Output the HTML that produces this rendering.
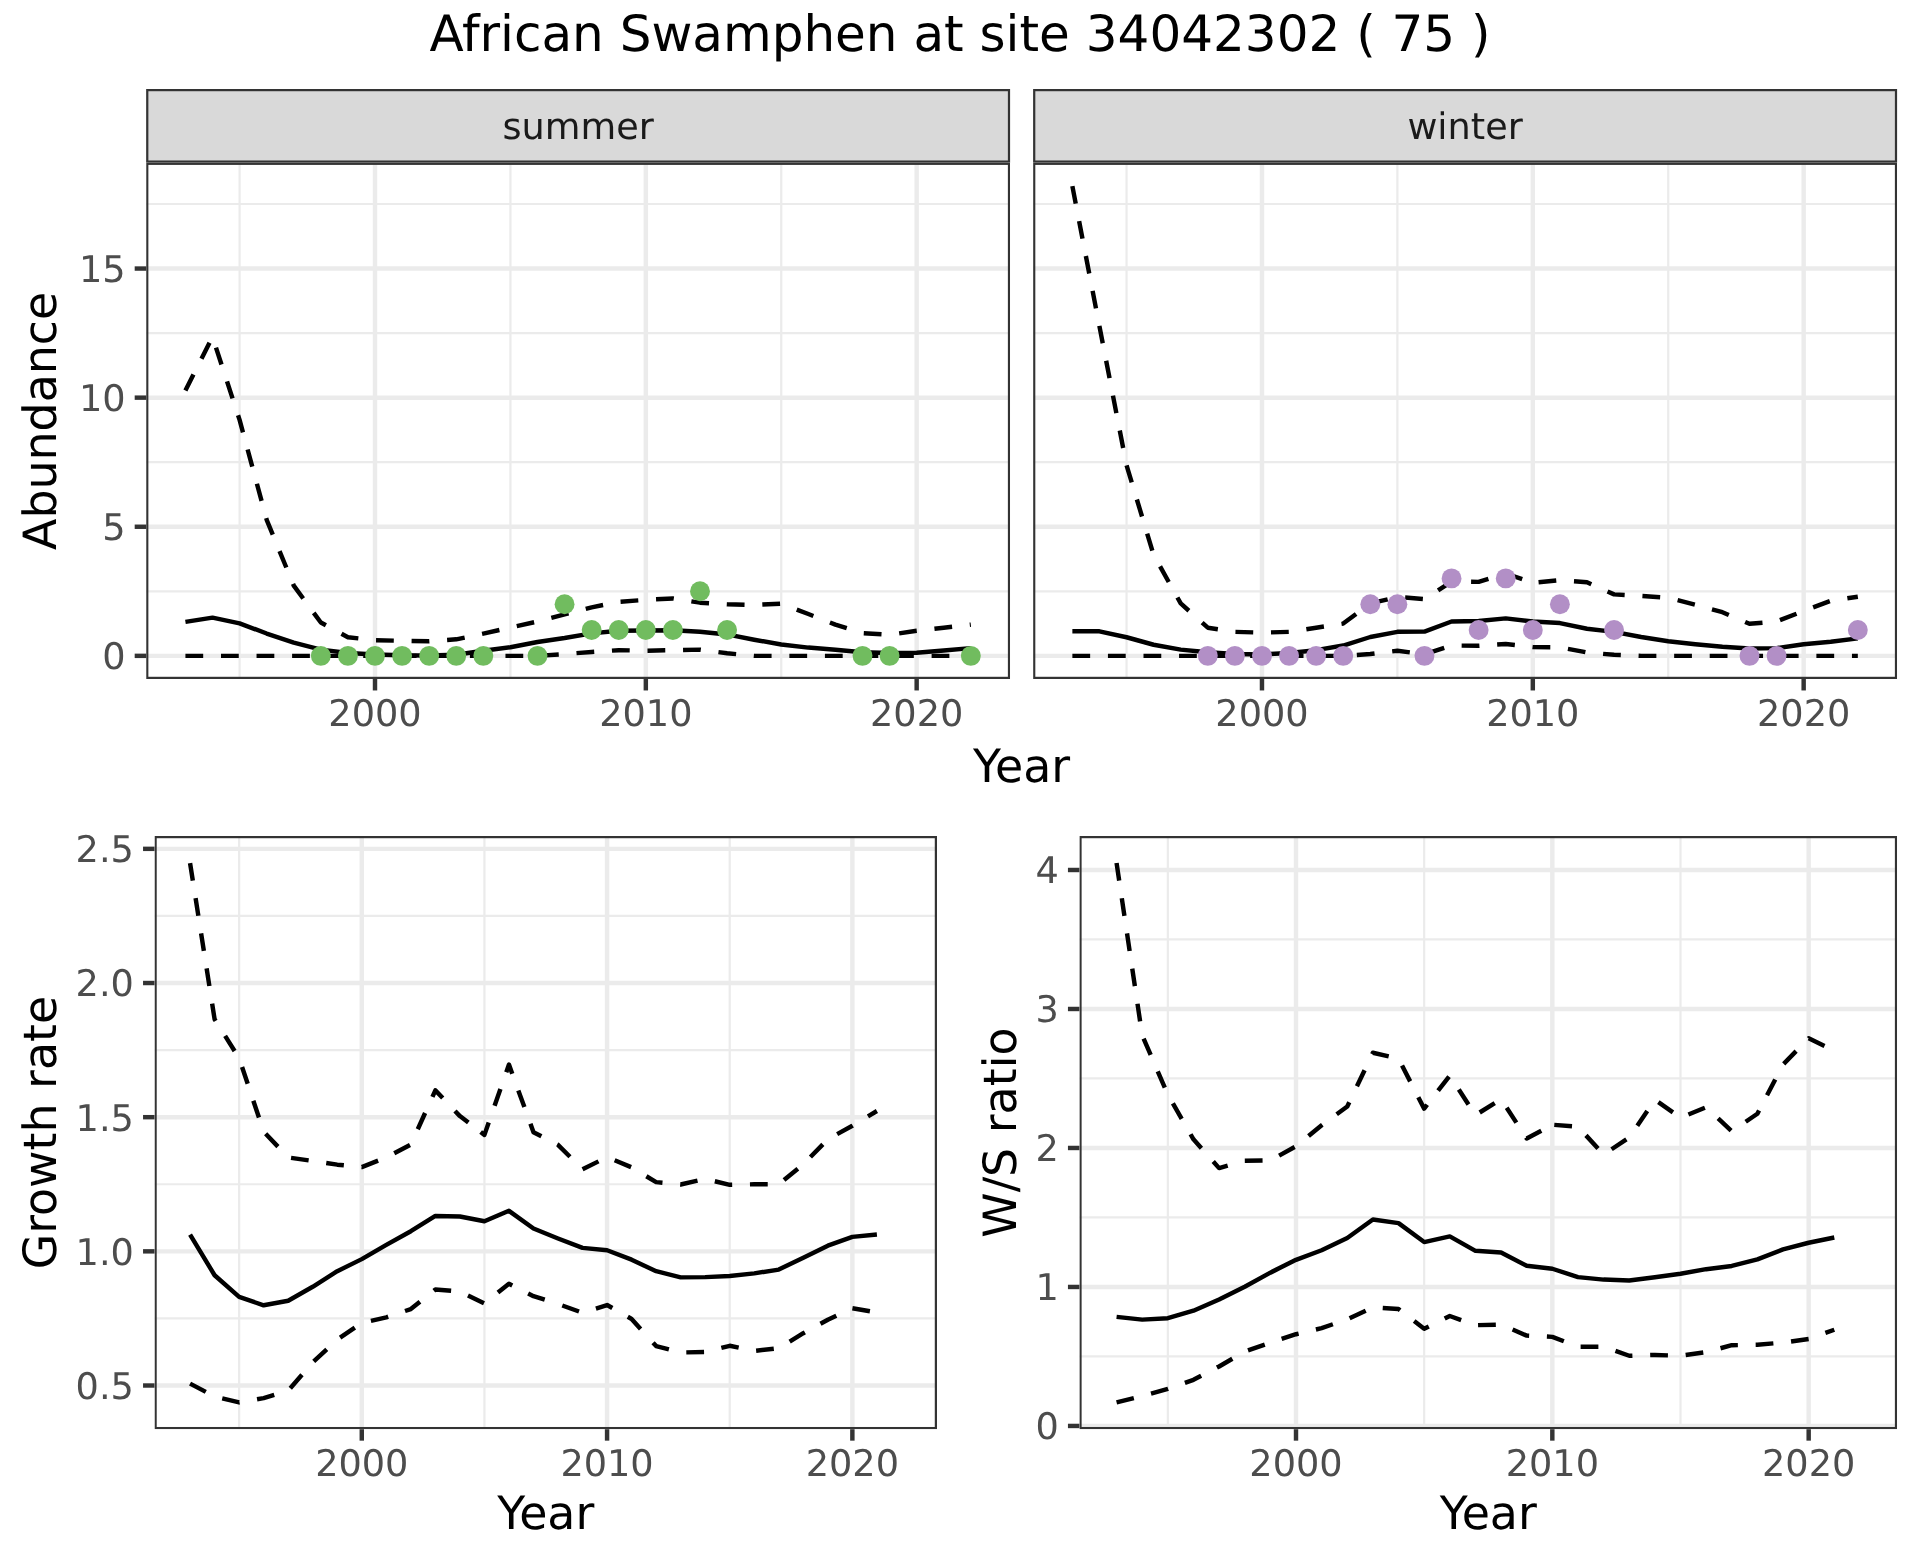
<!DOCTYPE html><html><head><meta charset="utf-8"><title>African Swamphen at site 34042302</title><style>html,body{margin:0;padding:0;background:#fff;width:1920px;height:1560px;overflow:hidden}svg{display:block;will-change:transform} text{font-family:'DejaVu Sans','Liberation Sans',sans-serif;text-rendering:geometricPrecision}</style></head><body>
<svg width="1920" height="1560" viewBox="0 0 1920 1560">
<rect width="1920" height="1560" fill="#FFFFFF"/>
<text x="429.5" y="51" font-size="50" fill="#000000">African Swamphen at site 34042302 ( 75 )</text>
<clipPath id="c1"><rect x="146.15" y="162.7" width="863.95" height="516.3"/></clipPath>
<g clip-path="url(#c1)">
<rect x="146.15" y="162.7" width="863.95" height="516.3" fill="#FFFFFF"/>
<g stroke="#EBEBEB" fill="none"><line x1="239.59" y1="162.7" x2="239.59" y2="679" stroke-width="2.22"/><line x1="510.42" y1="162.7" x2="510.42" y2="679" stroke-width="2.22"/><line x1="781.25" y1="162.7" x2="781.25" y2="679" stroke-width="2.22"/><line x1="146.15" y1="591.3" x2="1010.1" y2="591.3" stroke-width="2.22"/><line x1="146.15" y1="462.2" x2="1010.1" y2="462.2" stroke-width="2.22"/><line x1="146.15" y1="333.1" x2="1010.1" y2="333.1" stroke-width="2.22"/><line x1="146.15" y1="204" x2="1010.1" y2="204" stroke-width="2.22"/><line x1="375" y1="162.7" x2="375" y2="679" stroke-width="4.45"/><line x1="645.83" y1="162.7" x2="645.83" y2="679" stroke-width="4.45"/><line x1="916.66" y1="162.7" x2="916.66" y2="679" stroke-width="4.45"/><line x1="146.15" y1="655.85" x2="1010.1" y2="655.85" stroke-width="4.45"/><line x1="146.15" y1="526.75" x2="1010.1" y2="526.75" stroke-width="4.45"/><line x1="146.15" y1="397.65" x2="1010.1" y2="397.65" stroke-width="4.45"/><line x1="146.15" y1="268.55" x2="1010.1" y2="268.55" stroke-width="4.45"/></g>
<g fill="none" stroke="#000000" stroke-width="4.445" stroke-linejoin="round" stroke-linecap="butt">
<polyline points="185.42,621.87 212.5,617.64 239.59,623.32 266.67,633.52 293.75,642.68 320.84,649.65 347.92,653.01 375,654.56 402.09,655.33 429.17,655.46 456.25,654.82 483.33,650.69 510.42,647.2 537.5,642.04 564.58,638.03 591.67,633.39 618.75,630.8 645.83,630.55 672.92,630.29 700,631.71 727.08,634.42 754.16,639.71 781.25,644.49 808.33,647.59 835.41,649.81 862.5,652.24 889.58,653.01 916.66,652.75 943.75,650.43 970.83,648.1"/>
<polyline points="185.42,655.85 212.5,655.85 239.59,655.85 266.67,655.85 293.75,655.85 320.84,655.85 347.92,655.85 375,655.85 402.09,655.85 429.17,655.85 456.25,655.85 483.33,655.85 510.42,655.85 537.5,655.85 564.58,654.04 591.67,651.98 618.75,650.17 645.83,650.69 672.92,650.17 700,649.65 727.08,653.27 754.16,655.85 781.25,655.85 808.33,655.85 835.41,655.85 862.5,655.85 889.58,655.85 916.66,655.85 943.75,655.85 970.83,655.85" stroke-dasharray="17.78 17.78"/>
<polyline points="185.42,390.42 212.5,336.97 239.59,419.86 266.67,519.78 293.75,585.62 320.84,622.54 347.92,637.26 375,640.2 402.09,640.8 429.17,641.26 456.25,639.33 483.33,633.64 510.42,627.45 537.5,621.51 564.58,614.28 591.67,607.31 618.75,601.89 645.83,599.82 672.92,598.53 700,602.66 727.08,604.21 754.16,604.98 781.25,603.69 808.33,614.02 835.41,624.61 862.5,633.13 889.58,634.81 916.66,630.8 943.75,627.71 970.83,624.61" stroke-dasharray="17.78 17.78"/>
</g>
<g fill="#71BC5F">
<circle cx="320.84" cy="655.85" r="9.95"/>
<circle cx="347.92" cy="655.85" r="9.95"/>
<circle cx="375" cy="655.85" r="9.95"/>
<circle cx="402.09" cy="655.85" r="9.95"/>
<circle cx="429.17" cy="655.85" r="9.95"/>
<circle cx="456.25" cy="655.85" r="9.95"/>
<circle cx="483.33" cy="655.85" r="9.95"/>
<circle cx="537.5" cy="655.85" r="9.95"/>
<circle cx="564.58" cy="604.21" r="9.95"/>
<circle cx="591.67" cy="630.03" r="9.95"/>
<circle cx="618.75" cy="630.03" r="9.95"/>
<circle cx="645.83" cy="630.03" r="9.95"/>
<circle cx="672.92" cy="630.03" r="9.95"/>
<circle cx="700" cy="591.3" r="9.95"/>
<circle cx="727.08" cy="630.03" r="9.95"/>
<circle cx="862.5" cy="655.85" r="9.95"/>
<circle cx="889.58" cy="655.85" r="9.95"/>
<circle cx="970.83" cy="655.85" r="9.95"/>
</g>
<rect x="147.26" y="163.81" width="861.73" height="514.08" fill="none" stroke="#333333" stroke-width="2.22"/>
</g>
<clipPath id="c2"><rect x="1033.1" y="162.7" width="864" height="516.3"/></clipPath>
<g clip-path="url(#c2)">
<rect x="1033.1" y="162.7" width="864" height="516.3" fill="#FFFFFF"/>
<g stroke="#EBEBEB" fill="none"><line x1="1126.54" y1="162.7" x2="1126.54" y2="679" stroke-width="2.22"/><line x1="1397.39" y1="162.7" x2="1397.39" y2="679" stroke-width="2.22"/><line x1="1668.23" y1="162.7" x2="1668.23" y2="679" stroke-width="2.22"/><line x1="1033.1" y1="591.3" x2="1897.1" y2="591.3" stroke-width="2.22"/><line x1="1033.1" y1="462.2" x2="1897.1" y2="462.2" stroke-width="2.22"/><line x1="1033.1" y1="333.1" x2="1897.1" y2="333.1" stroke-width="2.22"/><line x1="1033.1" y1="204" x2="1897.1" y2="204" stroke-width="2.22"/><line x1="1261.97" y1="162.7" x2="1261.97" y2="679" stroke-width="4.45"/><line x1="1532.81" y1="162.7" x2="1532.81" y2="679" stroke-width="4.45"/><line x1="1803.66" y1="162.7" x2="1803.66" y2="679" stroke-width="4.45"/><line x1="1033.1" y1="655.85" x2="1897.1" y2="655.85" stroke-width="4.45"/><line x1="1033.1" y1="526.75" x2="1897.1" y2="526.75" stroke-width="4.45"/><line x1="1033.1" y1="397.65" x2="1897.1" y2="397.65" stroke-width="4.45"/><line x1="1033.1" y1="268.55" x2="1897.1" y2="268.55" stroke-width="4.45"/></g>
<g fill="none" stroke="#000000" stroke-width="4.445" stroke-linejoin="round" stroke-linecap="butt">
<polyline points="1072.37,631.32 1099.46,631.32 1126.54,637.26 1153.63,644.75 1180.71,649.65 1207.8,652.24 1234.88,654.04 1261.97,654.56 1289.05,653.01 1316.13,650.17 1343.22,645.52 1370.3,637 1397.39,631.84 1424.47,631.58 1451.56,621.51 1478.64,620.99 1505.73,618.41 1532.81,621.51 1559.9,623.06 1586.98,628.74 1614.07,631.84 1641.15,637 1668.23,641.26 1695.32,644.23 1722.4,646.68 1749.49,648.52 1776.57,648.1 1803.66,644.23 1830.74,641.7 1857.83,638.4"/>
<polyline points="1072.37,655.85 1099.46,655.85 1126.54,655.85 1153.63,655.85 1180.71,655.85 1207.8,655.85 1234.88,655.85 1261.97,655.85 1289.05,655.85 1316.13,655.85 1343.22,655.85 1370.3,654.04 1397.39,650.69 1424.47,654.3 1451.56,645.52 1478.64,645.78 1505.73,643.97 1532.81,647.07 1559.9,647.33 1586.98,652.49 1614.07,654.82 1641.15,655.85 1668.23,655.85 1695.32,655.85 1722.4,655.85 1749.49,655.85 1776.57,655.85 1803.66,655.85 1830.74,655.85 1857.83,655.85" stroke-dasharray="17.78 17.78"/>
<polyline points="1072.37,186.18 1099.46,326.39 1126.54,465.30 1153.63,554.89 1180.71,603.44 1207.80,627.71 1234.88,631.84 1261.97,632.61 1289.05,631.84 1316.13,627.71 1343.22,623.58 1370.30,603.44 1397.39,596.98 1424.47,599.05 1451.56,581.62 1478.64,581.88 1505.73,573.48 1530.62,582.03" stroke-dasharray="17.78 17.78" stroke-dashoffset="0.00"/><polyline points="1530.62,582.03 1532.81,582.78 1559.90,580.20 1586.98,582.26 1614.07,594.40 1641.15,595.95 1668.23,597.76 1695.32,604.73 1722.40,612.21 1749.49,623.83 1776.57,621.51 1803.66,610.92 1830.74,600.85 1857.83,596.72 1857.83,596.72" stroke-dasharray="17.78 17.78" stroke-dashoffset="809.79"/>
</g>
<g fill="#B28FC6">
<circle cx="1207.8" cy="655.85" r="9.95"/>
<circle cx="1234.88" cy="655.85" r="9.95"/>
<circle cx="1261.97" cy="655.85" r="9.95"/>
<circle cx="1289.05" cy="655.85" r="9.95"/>
<circle cx="1316.13" cy="655.85" r="9.95"/>
<circle cx="1343.22" cy="655.85" r="9.95"/>
<circle cx="1370.3" cy="604.21" r="9.95"/>
<circle cx="1397.39" cy="604.21" r="9.95"/>
<circle cx="1424.47" cy="655.85" r="9.95"/>
<circle cx="1451.56" cy="578.39" r="9.95"/>
<circle cx="1478.64" cy="630.03" r="9.95"/>
<circle cx="1505.73" cy="578.39" r="9.95"/>
<circle cx="1532.81" cy="630.03" r="9.95"/>
<circle cx="1559.9" cy="604.21" r="9.95"/>
<circle cx="1614.07" cy="630.03" r="9.95"/>
<circle cx="1749.49" cy="655.85" r="9.95"/>
<circle cx="1776.57" cy="655.85" r="9.95"/>
<circle cx="1857.83" cy="630.03" r="9.95"/>
</g>
<rect x="1034.21" y="163.81" width="861.78" height="514.08" fill="none" stroke="#333333" stroke-width="2.22"/>
</g>
<rect x="147.26" y="90.11" width="861.73" height="71.48" fill="#D9D9D9" stroke="#333333" stroke-width="2.22"/>
<text x="578.12" y="138.9" text-anchor="middle" font-size="36.67" fill="#1A1A1A">summer</text>
<rect x="1034.21" y="90.11" width="861.78" height="71.48" fill="#D9D9D9" stroke="#333333" stroke-width="2.22"/>
<text x="1465.1" y="138.9" text-anchor="middle" font-size="36.67" fill="#1A1A1A">winter</text>
<line x1="134.69" y1="655.85" x2="146.15" y2="655.85" stroke="#333333" stroke-width="4.445"/>
<text x="125.6" y="669.2" text-anchor="end" font-size="36.67" fill="#4D4D4D">0</text>
<line x1="134.69" y1="526.75" x2="146.15" y2="526.75" stroke="#333333" stroke-width="4.445"/>
<text x="125.6" y="540.1" text-anchor="end" font-size="36.67" fill="#4D4D4D">5</text>
<line x1="134.69" y1="397.65" x2="146.15" y2="397.65" stroke="#333333" stroke-width="4.445"/>
<text x="125.6" y="411" text-anchor="end" font-size="36.67" fill="#4D4D4D">10</text>
<line x1="134.69" y1="268.55" x2="146.15" y2="268.55" stroke="#333333" stroke-width="4.445"/>
<text x="125.6" y="281.9" text-anchor="end" font-size="36.67" fill="#4D4D4D">15</text>
<line x1="375" y1="679" x2="375" y2="690.46" stroke="#333333" stroke-width="4.445"/>
<text x="375" y="726" text-anchor="middle" font-size="36.67" fill="#4D4D4D">2000</text>
<line x1="645.83" y1="679" x2="645.83" y2="690.46" stroke="#333333" stroke-width="4.445"/>
<text x="645.83" y="726" text-anchor="middle" font-size="36.67" fill="#4D4D4D">2010</text>
<line x1="916.66" y1="679" x2="916.66" y2="690.46" stroke="#333333" stroke-width="4.445"/>
<text x="916.66" y="726" text-anchor="middle" font-size="36.67" fill="#4D4D4D">2020</text>
<line x1="1261.97" y1="679" x2="1261.97" y2="690.46" stroke="#333333" stroke-width="4.445"/>
<text x="1261.97" y="726" text-anchor="middle" font-size="36.67" fill="#4D4D4D">2000</text>
<line x1="1532.81" y1="679" x2="1532.81" y2="690.46" stroke="#333333" stroke-width="4.445"/>
<text x="1532.81" y="726" text-anchor="middle" font-size="36.67" fill="#4D4D4D">2010</text>
<line x1="1803.66" y1="679" x2="1803.66" y2="690.46" stroke="#333333" stroke-width="4.445"/>
<text x="1803.66" y="726" text-anchor="middle" font-size="36.67" fill="#4D4D4D">2020</text>
<text x="1021.6" y="781.75" text-anchor="middle" font-size="45.83" fill="#000000">Year</text>
<text transform="translate(56.1 420.85) rotate(-90)" text-anchor="middle" font-size="45.83" fill="#000000">Abundance</text>
<clipPath id="c3"><rect x="154.5" y="836" width="782.5" height="593.2"/></clipPath>
<g clip-path="url(#c3)">
<rect x="154.5" y="836" width="782.5" height="593.2" fill="#FFFFFF"/>
<g stroke="#EBEBEB" fill="none"><line x1="239.13" y1="836" x2="239.13" y2="1429.2" stroke-width="2.22"/><line x1="484.43" y1="836" x2="484.43" y2="1429.2" stroke-width="2.22"/><line x1="729.72" y1="836" x2="729.72" y2="1429.2" stroke-width="2.22"/><line x1="154.5" y1="1318.43" x2="937" y2="1318.43" stroke-width="2.22"/><line x1="154.5" y1="1184.26" x2="937" y2="1184.26" stroke-width="2.22"/><line x1="154.5" y1="1050.1" x2="937" y2="1050.1" stroke-width="2.22"/><line x1="154.5" y1="915.93" x2="937" y2="915.93" stroke-width="2.22"/><line x1="361.78" y1="836" x2="361.78" y2="1429.2" stroke-width="4.45"/><line x1="607.07" y1="836" x2="607.07" y2="1429.2" stroke-width="4.45"/><line x1="852.37" y1="836" x2="852.37" y2="1429.2" stroke-width="4.45"/><line x1="154.5" y1="1385.51" x2="937" y2="1385.51" stroke-width="4.45"/><line x1="154.5" y1="1251.35" x2="937" y2="1251.35" stroke-width="4.45"/><line x1="154.5" y1="1117.18" x2="937" y2="1117.18" stroke-width="4.45"/><line x1="154.5" y1="983.02" x2="937" y2="983.02" stroke-width="4.45"/><line x1="154.5" y1="848.85" x2="937" y2="848.85" stroke-width="4.45"/></g>
<g fill="none" stroke="#000000" stroke-width="4.445" stroke-linejoin="round" stroke-linecap="butt">
<polyline points="190.07,1234.71 214.6,1275.23 239.13,1296.96 263.66,1305.28 288.19,1300.72 312.72,1286.76 337.25,1271.2 361.78,1259.13 386.31,1244.91 410.84,1231.22 435.37,1215.93 459.9,1216.46 484.43,1221.29 508.96,1210.83 533.49,1228.54 558.01,1238.47 582.54,1247.86 607.07,1250.27 631.6,1259.66 656.13,1271.2 680.66,1277.37 705.19,1277.1 729.72,1276.03 754.25,1273.35 778.78,1269.59 803.31,1257.78 827.84,1245.71 852.37,1236.86 876.9,1234.44"/>
<polyline points="190.07,1383.63 214.60,1396.51 239.13,1402.41 263.66,1398.12 288.19,1390.61 312.72,1362.43 337.25,1339.63 361.78,1322.99 386.31,1317.35 410.84,1309.04 435.37,1289.45 459.90,1291.59 484.43,1303.40 508.96,1283.81 533.49,1296.16 553.20,1302.41" stroke-dasharray="17.78 17.78" stroke-dashoffset="0.00"/><polyline points="553.20,1302.41 558.01,1303.94 582.54,1312.79 607.07,1305.01 631.60,1318.96 646.57,1335.50" stroke-dasharray="17.78 17.78" stroke-dashoffset="417.13"/><polyline points="646.57,1335.50 656.13,1346.07 680.66,1352.51 705.19,1351.97 729.72,1345.80 754.25,1350.90 778.78,1348.21 803.31,1333.19 827.84,1319.77 852.37,1308.23 876.90,1312.52 876.90,1312.52" stroke-dasharray="17.78 17.78" stroke-dashoffset="523.71"/>
<polyline points="190.07,863.07 214.60,1019.24 239.13,1058.15 263.66,1131.67 288.19,1157.43 312.72,1160.92 337.25,1164.67 361.78,1167.09 386.31,1157.43 410.84,1144.55 435.37,1090.35 459.90,1116.11 475.41,1127.99" stroke-dasharray="17.78 17.78" stroke-dashoffset="0.00"/><polyline points="475.41,1127.99 484.43,1134.89 508.96,1064.59 533.49,1132.21 558.01,1144.82 582.54,1169.24 607.07,1157.16 631.60,1167.36 656.13,1182.12 680.66,1184.53 705.19,1178.90 729.72,1184.80 754.25,1184.26 778.78,1184.26 803.31,1164.41 804.59,1163.09" stroke-dasharray="17.78 17.78" stroke-dashoffset="562.37"/><polyline points="804.59,1163.09 827.84,1139.18 852.37,1125.77 876.90,1111.01 876.90,1111.01" stroke-dasharray="17.78 17.78" stroke-dashoffset="1022.85"/>
</g>
<rect x="155.61" y="837.11" width="780.28" height="590.98" fill="none" stroke="#333333" stroke-width="2.22"/>
</g>
<line x1="143.04" y1="1385.51" x2="154.5" y2="1385.51" stroke="#333333" stroke-width="4.445"/>
<text x="133.9" y="1398.86" text-anchor="end" font-size="36.67" fill="#4D4D4D">0.5</text>
<line x1="143.04" y1="1251.35" x2="154.5" y2="1251.35" stroke="#333333" stroke-width="4.445"/>
<text x="133.9" y="1264.69" text-anchor="end" font-size="36.67" fill="#4D4D4D">1.0</text>
<line x1="143.04" y1="1117.18" x2="154.5" y2="1117.18" stroke="#333333" stroke-width="4.445"/>
<text x="133.9" y="1130.53" text-anchor="end" font-size="36.67" fill="#4D4D4D">1.5</text>
<line x1="143.04" y1="983.02" x2="154.5" y2="983.02" stroke="#333333" stroke-width="4.445"/>
<text x="133.9" y="996.37" text-anchor="end" font-size="36.67" fill="#4D4D4D">2.0</text>
<line x1="143.04" y1="848.85" x2="154.5" y2="848.85" stroke="#333333" stroke-width="4.445"/>
<text x="133.9" y="862.2" text-anchor="end" font-size="36.67" fill="#4D4D4D">2.5</text>
<line x1="361.78" y1="1429.2" x2="361.78" y2="1440.66" stroke="#333333" stroke-width="4.445"/>
<text x="361.78" y="1475.9" text-anchor="middle" font-size="36.67" fill="#4D4D4D">2000</text>
<line x1="607.07" y1="1429.2" x2="607.07" y2="1440.66" stroke="#333333" stroke-width="4.445"/>
<text x="607.07" y="1475.9" text-anchor="middle" font-size="36.67" fill="#4D4D4D">2010</text>
<line x1="852.37" y1="1429.2" x2="852.37" y2="1440.66" stroke="#333333" stroke-width="4.445"/>
<text x="852.37" y="1475.9" text-anchor="middle" font-size="36.67" fill="#4D4D4D">2020</text>
<text x="545.75" y="1528.7" text-anchor="middle" font-size="45.83" fill="#000000">Year</text>
<text transform="translate(55.9 1132.6) rotate(-90)" text-anchor="middle" font-size="45.83" fill="#000000">Growth rate</text>
<clipPath id="c4"><rect x="1079.4" y="836" width="817.7" height="593.2"/></clipPath>
<g clip-path="url(#c4)">
<rect x="1079.4" y="836" width="817.7" height="593.2" fill="#FFFFFF"/>
<g stroke="#EBEBEB" fill="none"><line x1="1167.83" y1="836" x2="1167.83" y2="1429.2" stroke-width="2.22"/><line x1="1424.17" y1="836" x2="1424.17" y2="1429.2" stroke-width="2.22"/><line x1="1680.5" y1="836" x2="1680.5" y2="1429.2" stroke-width="2.22"/><line x1="1079.4" y1="1356.46" x2="1897.1" y2="1356.46" stroke-width="2.22"/><line x1="1079.4" y1="1217.47" x2="1897.1" y2="1217.47" stroke-width="2.22"/><line x1="1079.4" y1="1078.47" x2="1897.1" y2="1078.47" stroke-width="2.22"/><line x1="1079.4" y1="939.48" x2="1897.1" y2="939.48" stroke-width="2.22"/><line x1="1296" y1="836" x2="1296" y2="1429.2" stroke-width="4.45"/><line x1="1552.33" y1="836" x2="1552.33" y2="1429.2" stroke-width="4.45"/><line x1="1808.67" y1="836" x2="1808.67" y2="1429.2" stroke-width="4.45"/><line x1="1079.4" y1="1425.95" x2="1897.1" y2="1425.95" stroke-width="4.45"/><line x1="1079.4" y1="1286.96" x2="1897.1" y2="1286.96" stroke-width="4.45"/><line x1="1079.4" y1="1147.97" x2="1897.1" y2="1147.97" stroke-width="4.45"/><line x1="1079.4" y1="1008.98" x2="1897.1" y2="1008.98" stroke-width="4.45"/><line x1="1079.4" y1="869.99" x2="1897.1" y2="869.99" stroke-width="4.45"/></g>
<g fill="none" stroke="#000000" stroke-width="4.445" stroke-linejoin="round" stroke-linecap="butt">
<polyline points="1116.57,1316.84 1142.2,1319.62 1167.83,1318.23 1193.47,1310.73 1219.1,1299.47 1244.73,1286.68 1270.37,1272.64 1296,1259.86 1321.63,1250.27 1347.27,1238.04 1372.9,1219.55 1398.53,1223.16 1424.17,1242.07 1449.8,1236.37 1475.43,1250.82 1501.07,1252.49 1526.7,1265.83 1552.33,1268.75 1577.97,1277.09 1603.6,1279.59 1629.23,1280.57 1654.87,1277.23 1680.5,1273.76 1706.13,1269.17 1731.77,1265.97 1757.4,1259.44 1783.03,1249.43 1808.67,1242.76 1834.3,1237.48"/>
<polyline points="1116.57,1402.46 1142.2,1396.07 1167.83,1388.98 1193.47,1379.81 1219.1,1366.46 1244.73,1351.59 1270.37,1342.56 1296,1334.22 1321.63,1328.1 1347.27,1319.34 1372.9,1307.39 1398.53,1309.06 1424.17,1328.8 1449.8,1316.01 1475.43,1325.18 1501.07,1324.63 1526.7,1335.61 1552.33,1336.86 1577.97,1346.73 1603.6,1346.73 1629.23,1355.76 1654.87,1354.93 1680.5,1355.76 1706.13,1352.15 1731.77,1345.2 1757.4,1344.78 1783.03,1342.56 1808.67,1338.94 1834.3,1329.77" stroke-dasharray="17.78 17.78"/>
<polyline points="1116.57,863.04 1142.20,1035.39 1167.83,1094.60 1193.47,1139.35 1219.10,1168.12 1244.73,1160.76 1270.37,1160.48 1296.00,1146.30 1321.63,1125.18 1347.27,1106.55 1372.90,1052.76 1398.53,1058.74 1424.17,1108.64 1449.80,1075.70 1475.43,1115.17 1501.07,1099.05 1526.70,1138.52 1549.13,1126.48" stroke-dasharray="17.78 17.78" stroke-dashoffset="0.00"/><polyline points="1549.13,1126.48 1552.33,1124.76 1577.97,1126.70 1603.60,1154.50 1629.23,1137.55 1654.87,1099.74 1680.50,1117.67 1706.13,1107.25 1731.77,1131.29 1757.40,1113.78 1763.16,1102.71" stroke-dasharray="17.78 17.78" stroke-dashoffset="812.29"/><polyline points="1763.16,1102.71 1783.03,1064.58 1808.67,1038.31 1834.30,1050.68 1834.30,1050.68" stroke-dasharray="17.78 17.78" stroke-dashoffset="1093.97"/>
</g>
<rect x="1080.51" y="837.11" width="815.48" height="590.98" fill="none" stroke="#333333" stroke-width="2.22"/>
</g>
<line x1="1067.94" y1="1425.95" x2="1079.4" y2="1425.95" stroke="#333333" stroke-width="4.445"/>
<text x="1058.8" y="1439.3" text-anchor="end" font-size="36.67" fill="#4D4D4D">0</text>
<line x1="1067.94" y1="1286.96" x2="1079.4" y2="1286.96" stroke="#333333" stroke-width="4.445"/>
<text x="1058.8" y="1300.31" text-anchor="end" font-size="36.67" fill="#4D4D4D">1</text>
<line x1="1067.94" y1="1147.97" x2="1079.4" y2="1147.97" stroke="#333333" stroke-width="4.445"/>
<text x="1058.8" y="1161.32" text-anchor="end" font-size="36.67" fill="#4D4D4D">2</text>
<line x1="1067.94" y1="1008.98" x2="1079.4" y2="1008.98" stroke="#333333" stroke-width="4.445"/>
<text x="1058.8" y="1022.33" text-anchor="end" font-size="36.67" fill="#4D4D4D">3</text>
<line x1="1067.94" y1="869.99" x2="1079.4" y2="869.99" stroke="#333333" stroke-width="4.445"/>
<text x="1058.8" y="883.34" text-anchor="end" font-size="36.67" fill="#4D4D4D">4</text>
<line x1="1296" y1="1429.2" x2="1296" y2="1440.66" stroke="#333333" stroke-width="4.445"/>
<text x="1296" y="1475.9" text-anchor="middle" font-size="36.67" fill="#4D4D4D">2000</text>
<line x1="1552.33" y1="1429.2" x2="1552.33" y2="1440.66" stroke="#333333" stroke-width="4.445"/>
<text x="1552.33" y="1475.9" text-anchor="middle" font-size="36.67" fill="#4D4D4D">2010</text>
<line x1="1808.67" y1="1429.2" x2="1808.67" y2="1440.66" stroke="#333333" stroke-width="4.445"/>
<text x="1808.67" y="1475.9" text-anchor="middle" font-size="36.67" fill="#4D4D4D">2020</text>
<text x="1488.25" y="1528.7" text-anchor="middle" font-size="45.83" fill="#000000">Year</text>
<text transform="translate(1015.8 1132.6) rotate(-90)" text-anchor="middle" font-size="45.83" fill="#000000">W/S ratio</text>
</svg></body></html>
